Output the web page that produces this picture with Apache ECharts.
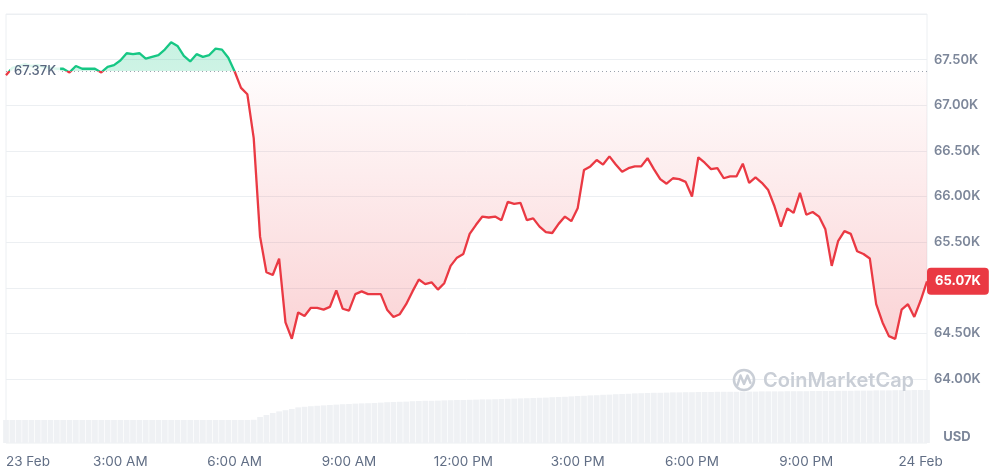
<!DOCTYPE html>
<html><head><meta charset="utf-8">
<script src="https://cdn.jsdelivr.net/npm/echarts@6/dist/echarts.min.js"></script>
<style>html,body{margin:0;padding:0;background:#fff;} #c{width:1002px;height:473px;}</style>
</head><body><div id="c"></div>
<script>
// 23 Feb 00:00 -> 24 Feb 00:10, one reading every 10 minutes (prices in thousand USD)
const xTickLabels = ['23 Feb','3:00 AM','6:00 AM','9:00 AM','12:00 PM','3:00 PM','6:00 PM','9:00 PM','24 Feb'];
const stepMinutes = 10;
const openPrice = 67.37;
const lastPrice = 65.07;
const prices = [
 67.33,67.41,67.43,67.45,67.43,67.44,67.42,67.41,67.40,67.40,
 67.36,67.43,67.40,67.40,67.40,67.36,67.42,67.44,67.49,67.57,
 67.56,67.57,67.51,67.53,67.55,67.61,67.69,67.65,67.54,67.48,
 67.56,67.53,67.55,67.62,67.61,67.52,67.37,67.19,67.12,66.64,
 65.56,65.17,65.14,65.32,64.62,64.44,64.73,64.69,64.78,64.78,
 64.76,64.79,64.97,64.77,64.75,64.93,64.96,64.93,64.93,64.93,
 64.76,64.68,64.71,64.82,64.96,65.09,65.04,65.06,64.98,65.05,
 65.24,65.33,65.37,65.59,65.69,65.78,65.77,65.78,65.74,65.94,
 65.92,65.93,65.74,65.76,65.67,65.61,65.60,65.70,65.78,65.73,
 65.87,66.29,66.33,66.40,66.35,66.44,66.35,66.27,66.31,66.33,
 66.33,66.42,66.30,66.19,66.14,66.20,66.19,66.16,66.00,66.43,
 66.37,66.30,66.31,66.20,66.22,66.22,66.36,66.15,66.21,66.15,
 66.07,65.89,65.67,65.87,65.82,66.04,65.80,65.83,65.78,65.64,
 65.24,65.51,65.62,65.59,65.40,65.37,65.32,64.82,64.62,64.47,
 64.44,64.76,64.82,64.68,64.86,65.07
];
// rolling 24h volume, billion USD
const volumes = [
 11.5,11.5,11.5,11.5,11.5,11.5,11.5,11.5,11.5,11.5,
 11.5,11.5,11.5,11.5,11.5,11.5,11.5,11.5,11.5,11.5,
 11.5,11.5,11.5,11.5,11.5,11.5,11.5,11.5,11.5,11.5,
 11.5,11.5,11.5,11.5,11.5,11.5,11.5,11.5,11.5,11.6,
 13.0,14.0,15.0,15.8,16.4,17.0,17.8,18.1,18.4,18.6,
 18.8,19.0,19.2,19.4,19.5,19.7,19.8,19.9,20.0,20.2,
 20.4,20.5,20.6,20.7,20.9,21.0,21.1,21.1,21.2,21.3,
 21.4,21.5,21.5,21.6,21.7,21.8,21.8,21.9,22.0,22.1,
 22.2,22.3,22.4,22.5,22.6,22.7,22.9,23.0,23.1,23.3,
 23.5,23.6,23.8,23.9,24.1,24.2,24.4,24.5,24.6,24.8,
 24.9,25.0,25.1,25.1,25.2,25.3,25.3,25.4,25.4,25.5,
 25.5,25.5,25.6,25.6,25.6,25.6,25.7,25.7,25.7,25.8,
 25.8,25.8,25.8,25.9,25.9,25.9,25.9,26.0,26.0,26.0,
 26.0,26.1,26.1,26.1,26.2,26.2,26.2,26.3,26.3,26.3,
 26.4,26.4,26.4,26.5,26.5,26.5
];

const hourOf = i => i * stepMinutes / 60;
const priceData = prices.map((p, i) => [hourOf(i), p]);
const volData = volumes.map((v, i) => [hourOf(i), v]);
const maxHour = hourOf(prices.length - 1);

const GREEN = '#16c784', RED = '#ea3943';
const FONT = 'Inter, "Noto Sans", sans-serif';
const G = { left: 6, right: 75, top: 14, priceH: 365, volTop: 383, bottom: 30 };

const chart = echarts.init(document.getElementById('c'), null, { renderer: 'canvas' });

const option = {
  animation: false,
  backgroundColor: '#fff',
  grid: [
    { left: G.left, right: G.right, top: G.top, height: G.priceH },
    { left: G.left, right: G.right, top: G.volTop, bottom: G.bottom }
  ],
  xAxis: [
    { gridIndex: 0, type: 'value', min: 0, max: maxHour, show: false },
    { gridIndex: 1, type: 'value', min: 0, max: maxHour, interval: 3,
      axisLine: { show: false }, axisTick: { show: false }, splitLine: { show: false },
      axisLabel: {
        margin: 12, color: '#616e85', fontSize: 13.5, fontFamily: FONT, alignMinLabel: 'left',
        formatter: v => {
          const k = v / 3;
          return Math.abs(k - Math.round(k)) < 1e-6 ? (xTickLabels[Math.round(k)] || '') : '';
        }
      } }
  ],
  yAxis: [
    { gridIndex: 0, type: 'value', position: 'right', min: 64, max: 68, interval: 0.5,
      axisLine: { show: false }, axisTick: { show: false },
      splitLine: { lineStyle: { color: '#eceff2', width: 1 } },
      axisLabel: { margin: 7, color: '#7d879a', fontSize: 13, fontWeight: 600, fontFamily: FONT,
        formatter: v => v >= 68 ? '' : v.toFixed(2) + 'K' } },
    { gridIndex: 1, type: 'value', min: 0, max: 30, show: false }
  ],
  series: [
    { type: 'line', xAxisIndex: 0, yAxisIndex: 0, data: priceData, symbol: 'none', showSymbol: false,
      z: 3, lineStyle: { width: 2.3, color: RED },
      areaStyle: { origin: openPrice, color: 'rgba(234,57,67,0.1)' } },
    { type: 'bar', xAxisIndex: 1, yAxisIndex: 1, data: volData, barWidth: '90%', silent: true,
      itemStyle: { color: '#eff1f4' }, z: 1 }
  ]
};
chart.setOption(option);

const basePx = chart.convertToPixel({ yAxisIndex: 0 }, openPrice);
const lastPx = chart.convertToPixel({ yAxisIndex: 0 }, lastPrice);
const topPx = chart.convertToPixel({ yAxisIndex: 0 }, 68);
const botPx = chart.convertToPixel({ yAxisIndex: 0 }, 64);
const f = (basePx - topPx) / (botPx - topPx);
const leftPx = chart.convertToPixel({ xAxisIndex: 0 }, 0);
const rightPx = chart.convertToPixel({ xAxisIndex: 0 }, maxHour);

const lineGrad = new echarts.graphic.LinearGradient(0, topPx, 0, botPx, [
  { offset: 0, color: GREEN }, { offset: f, color: GREEN },
  { offset: f, color: RED }, { offset: 1, color: RED }
], true);
const areaGrad = new echarts.graphic.LinearGradient(0, topPx, 0, botPx, [
  { offset: 0, color: 'rgba(22,199,132,0.36)' },
  { offset: f - 0.0005, color: 'rgba(22,199,132,0.30)' },
  { offset: f, color: 'rgba(234,57,67,0.02)' },
  { offset: 1, color: 'rgba(234,57,67,0.36)' }
], true);

chart.setOption({
  series: [{ lineStyle: { width: 2.3, color: lineGrad }, areaStyle: { origin: openPrice, color: areaGrad } }],
  graphic: [
    { type: 'rect', z: 0, silent: true,
      shape: { x: leftPx, y: topPx, width: rightPx - leftPx, height: 473 - G.bottom - topPx },
      style: { fill: 'none', stroke: '#eceff2', lineWidth: 1 } },
    { type: 'line', z: 5, silent: true,
      shape: { x1: leftPx, y1: basePx, x2: rightPx, y2: basePx },
      style: { stroke: '#9aa1ad', lineWidth: 1, lineDash: [1, 3] } },
    { type: 'text', z: 10, silent: true, x: leftPx + 4, y: basePx,
      style: { text: openPrice.toFixed(2) + 'K', fill: '#58667e', font: '500 13px ' + FONT,
        backgroundColor: 'rgba(255,255,255,0.85)', padding: [3, 4], verticalAlign: 'middle', align: 'left' } },
    { type: 'text', z: 10, silent: true, x: rightPx, y: lastPx,
      style: { text: lastPrice.toFixed(2) + 'K', fill: '#fff', font: 'bold 13px ' + FONT,
        backgroundColor: RED, padding: [7, 8], borderRadius: 4, verticalAlign: 'middle', align: 'left' } },
    { type: 'text', z: 10, silent: true, x: 957, y: 437,
      style: { text: 'USD', fill: '#7d879a', font: 'bold 13px ' + FONT, align: 'center', verticalAlign: 'middle' } },
    { type: 'circle', z: 10, silent: true, shape: { cx: 744, cy: 380, r: 10 },
      style: { fill: 'none', stroke: '#c9ced6', lineWidth: 2.6 } },
    { type: 'polyline', z: 10, silent: true,
      shape: { points: [[737.5, 385], [740.5, 375.5], [744, 384], [747.5, 375.5], [750.5, 383]] },
      style: { fill: 'none', stroke: '#c9ced6', lineWidth: 2.4, lineJoin: 'round', lineCap: 'round' } },
    { type: 'text', z: 10, silent: true, x: 763, y: 381,
      style: { text: 'CoinMarketCap', fill: '#c9ced6', font: '600 20px ' + FONT, verticalAlign: 'middle', align: 'left' } }
  ]
});
</script>
</body></html>
